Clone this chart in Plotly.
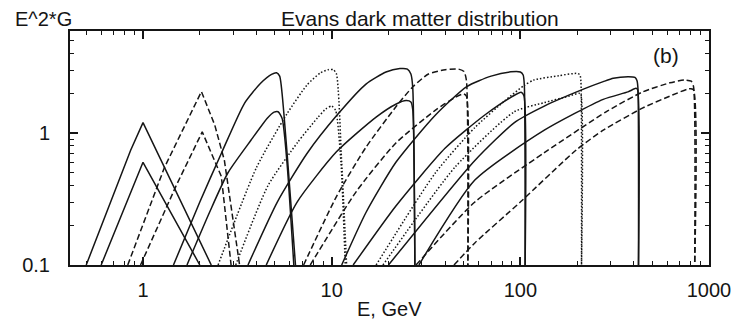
import numpy as np
import plotly.graph_objects as go

# ---------------- data (E in GeV, E^2*G) ----------------
U1_E = [0.50, 0.70, 0.86, 1.0, 2.3]
U1_Y = [0.10, 0.35, 0.74, 1.2, 0.10]
L1_E = [0.60, 0.875, 1.0, 2.0]
L1_Y = [0.10, 0.37, 0.60, 0.10]

U2_E = [0.83, 1.3, 2.04, 2.4, 2.7, 3.25]
U2_Y = [0.10, 0.55, 2.06, 1.15, 0.62, 0.10]
L2_E = [0.97, 1.5, 2.06, 2.6, 2.93]
L2_Y = [0.10, 0.40, 1.02, 0.47, 0.10]

U3_E = [1.45, 2.0, 2.6, 3.45, 4.2, 4.8, 5.1, 5.3, 5.58, 6.04, 6.43]
U3_Y = [0.10, 0.30, 0.70, 1.68, 2.38, 2.78, 2.86, 2.70, 1.41, 0.33, 0.10]
L3_E = [1.71, 2.25, 2.82, 3.74, 4.57, 4.95, 5.2, 5.47, 5.8, 6.3]
L3_Y = [0.10, 0.25, 0.50, 0.885, 1.30, 1.44, 1.45, 1.28, 0.59, 0.10]

U4_E = [2.5, 4.0, 5.8, 7.4, 8.7, 9.6, 10.2, 10.6, 11.3, 12.0]
U4_Y = [0.10, 0.55, 1.40, 2.31, 2.85, 3.02, 3.02, 2.80, 0.60, 0.10]
L4_E = [3.1, 4.6, 6.6, 8.4, 9.3, 10.0, 10.5, 11.2, 11.8]
L4_Y = [0.10, 0.40, 0.85, 1.30, 1.52, 1.60, 1.48, 0.60, 0.10]

U5_E = [3.6, 5.15, 7.4, 10.6, 15.2, 19.4, 23.0, 25.2, 26.3, 26.9, 27.6]
U5_Y = [0.10, 0.30, 0.70, 1.35, 2.35, 2.90, 3.08, 3.05, 2.80, 2.20, 0.10]
L5_E = [4.5, 6.56, 10.6, 17.2, 22.0, 24.8, 26.3, 26.9, 27.6]
L5_Y = [0.10, 0.30, 0.72, 1.32, 1.66, 1.76, 1.72, 1.50, 0.10]

U6_E = [7.1, 10.6, 15.2, 21.9, 27.0, 32.6, 40.0, 47.0, 50.3, 51.8, 52.7]
U6_Y = [0.10, 0.33, 0.78, 1.58, 2.25, 2.80, 3.02, 3.05, 2.92, 2.50, 0.10]
L6_E = [7.7, 13.5, 21.9, 35.5, 45.0, 50.0, 51.8, 52.7]
L6_Y = [0.10, 0.36, 0.84, 1.49, 1.86, 1.98, 1.90, 0.10]

U7_E = [11.3, 15.2, 21.9, 35.5, 52.0, 70.0, 89.0, 100.0, 103.5, 105.0, 106.0]
U7_Y = [0.10, 0.25, 0.60, 1.37, 2.25, 2.70, 2.91, 2.90, 2.75, 2.30, 0.10]
L7_E = [13.0, 21.9, 40.0, 64.8, 90.0, 101.0, 104.5, 106.0]
L7_Y = [0.10, 0.28, 0.77, 1.37, 1.88, 2.04, 1.92, 0.10]

U8_E = [17.2, 35.5, 57.4, 82.5, 105.0, 118.0, 160.0, 200.0, 207.0, 209.5, 211.0]
U8_Y = [0.10, 0.50, 1.10, 1.75, 2.30, 2.52, 2.72, 2.83, 2.76, 2.45, 0.10]
L8_E = [18.7, 45.0, 93.0, 134.0, 180.0, 205.0, 209.5, 211.0]
L8_Y = [0.10, 0.55, 1.45, 1.70, 1.90, 2.00, 1.95, 0.10]

U9_E = [20.0, 57.4, 93.0, 134.0, 216.0, 275.0, 311.0, 372.0, 405.0, 415.0, 420.0, 423.0]
U9_Y = [0.10, 0.62, 1.20, 1.60, 2.15, 2.45, 2.60, 2.67, 2.64, 2.50, 2.20, 0.10]
L9_E = [29.0, 57.4, 134.0, 275.0, 372.0, 410.0, 418.0, 423.0]
L9_Y = [0.10, 0.44, 1.05, 1.80, 2.05, 2.18, 2.14, 0.10]

U10_E = [28.0, 57.4, 134.0, 290.0, 446.0, 620.0, 740.0, 805.0, 828.0, 840.0]
U10_Y = [0.10, 0.30, 0.71, 1.47, 2.05, 2.40, 2.52, 2.47, 2.25, 0.10]
L10_E = [44.5, 57.4, 100.0, 197.0, 275.0, 446.0, 640.0, 780.0, 825.0, 840.0]
L10_Y = [0.10, 0.147, 0.30, 0.74, 1.05, 1.55, 1.94, 2.16, 2.14, 0.10]

X_TICKS = [1, 10, 100, 1000]
X_TICK_TEXT = ["1", "10", "100", "1000"]
Y_TICKS = [0.1, 1]
Y_TICK_TEXT = ["0.1", "1"]

DASH = "6px,3px"
DOT = "1.5px,2px"
series = [
    (U1_E, U1_Y, "solid", "linear"), (L1_E, L1_Y, "solid", "linear"),
    (U2_E, U2_Y, DASH, "linear"), (L2_E, L2_Y, DASH, "linear"),
    (U3_E, U3_Y, "solid", "spline"), (L3_E, L3_Y, "solid", "spline"),
    (U4_E, U4_Y, DOT, "spline"), (L4_E, L4_Y, DOT, "spline"),
    (U5_E, U5_Y, "solid", "spline"), (L5_E, L5_Y, "solid", "spline"),
    (U6_E, U6_Y, DASH, "spline"), (L6_E, L6_Y, DASH, "spline"),
    (U7_E, U7_Y, "solid", "spline"), (L7_E, L7_Y, "solid", "spline"),
    (U8_E, U8_Y, DOT, "spline"), (L8_E, L8_Y, DOT, "spline"),
    (U9_E, U9_Y, "solid", "spline"), (L9_E, L9_Y, "solid", "spline"),
    (U10_E, U10_Y, DASH, "spline"), (L10_E, L10_Y, DASH, "spline"),
]

INK = "#151515"
fig = go.Figure()
for ex, ey, dash, shape in series:
    line = dict(color=INK, width=1.5, dash=dash, shape=shape)
    if shape == "spline":
        line["smoothing"] = 0.6
    fig.add_trace(go.Scatter(x=ex, y=ey, mode="lines", line=line,
                             hoverinfo="skip"))

minor_x = [v * d for d in (0.1, 1, 10, 100) for v in range(2, 10) if 0.41 < v * d < 1000]
minor_y = [v * d for d in (0.1, 1) for v in range(2, 10) if v * d < 6]

FONT = "Liberation Sans, Arial, Helvetica, sans-serif"
fig.update_layout(
    width=743, height=321,
    margin=dict(l=70, r=26, t=31, b=56),
    plot_bgcolor="white", paper_bgcolor="white",
    showlegend=False,
    font=dict(family=FONT, size=20, color=INK),
)
fig.update_xaxes(
    type="log", range=[-0.387, 3.0],
    tickmode="array", tickvals=X_TICKS, ticktext=X_TICK_TEXT,
    ticks="inside", ticklen=8, tickwidth=1.5, tickcolor=INK,
    showline=True, linewidth=2, linecolor=INK, mirror="allticks",
    showgrid=False, zeroline=False, ticklabelstandoff=6,
    minor=dict(ticks="inside", ticklen=4, tickwidth=1.2, tickcolor=INK,
               tickmode="array", tickvals=minor_x, showgrid=False),
)
fig.update_yaxes(
    type="log", range=[-1.0, 0.773],
    tickmode="array", tickvals=Y_TICKS, ticktext=Y_TICK_TEXT,
    ticks="inside", ticklen=8, tickwidth=1.5, tickcolor=INK,
    showline=True, linewidth=2, linecolor=INK, mirror="allticks",
    showgrid=False, zeroline=False, ticklabelstandoff=14,
    minor=dict(ticks="inside", ticklen=4, tickwidth=1.2, tickcolor=INK,
               tickmode="array", tickvals=minor_y, showgrid=False),
)

def px2paper_x(px):
    return (px - 70) / 647.0

def px2paper_y(py):
    return (265 - py) / 234.0

annos = [
    ("Evans dark matter distribution", 424, 19, 21),
    ("E^2*G", 43, 19, 20),
    ("(b)", 673, 56, 21),
    ("E, GeV", 393, 309, 20),
]
for txt, ax_, ay_, fs in annos:
    fig.add_annotation(text=txt, xref="paper", yref="paper",
                       x=px2paper_x(ax_), y=px2paper_y(ay_),
                       xanchor="center", yanchor="middle", showarrow=False,
                       font=dict(family=FONT, size=fs, color=INK))

fig.write_html("out.html")
